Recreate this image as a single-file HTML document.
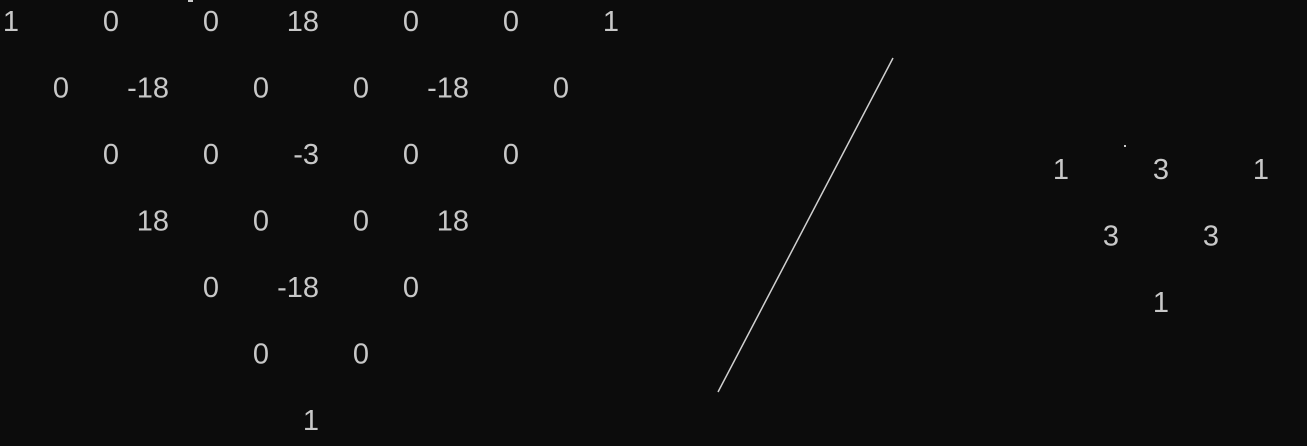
<!DOCTYPE html>
<html><head><meta charset="utf-8"><style>
html,body{margin:0;padding:0;background:#0c0c0c;}
svg{display:block;}
text{font-family:"Liberation Sans",sans-serif;font-size:29px;fill:#c8c8c8;}
</style></head><body>
<svg id="c" width="1307" height="446">
<rect width="1307" height="446" fill="#0c0c0c"/>
<line x1="893" y1="58" x2="718" y2="392" stroke="#d0d0d0" stroke-width="1.5"/>
<rect x="1124" y="145" width="2" height="2" fill="#ccc"/>
<rect x="188" y="0" width="5" height="2" fill="#ccc"/>
</svg>
<script>
const leftRows = [
 [1,0,0,18,0,0,1],
 [0,-18,0,0,-18,0],
 [0,0,-3,0,0],
 [18,0,0,18],
 [0,-18,0],
 [0,0],
 [1]
];
const rightRows = [
 [1,3,1],
 [3,3],
 [1]
];
const svg = document.getElementById('c');
const NS = 'http://www.w3.org/2000/svg';
function draw(rows, x0, y0, colStep, rowStep, prefix){
  rows.forEach((row, r) => {
    row.forEach((v, i) => {
      const t = document.createElementNS(NS, 'text');
      t.setAttribute('x', x0 + colStep/2*r + colStep*i);
      t.setAttribute('y', y0 + rowStep*r);
      t.setAttribute('text-anchor', 'end');
      
      
      t.textContent = String(v);
      svg.appendChild(t);
    });
  });
}
draw(leftRows, 19, 31, 100, 66.5, 'left-triangle');
draw(rightRows, 1069, 179, 100, 66.5, 'right-triangle');
</script>
</body></html>
